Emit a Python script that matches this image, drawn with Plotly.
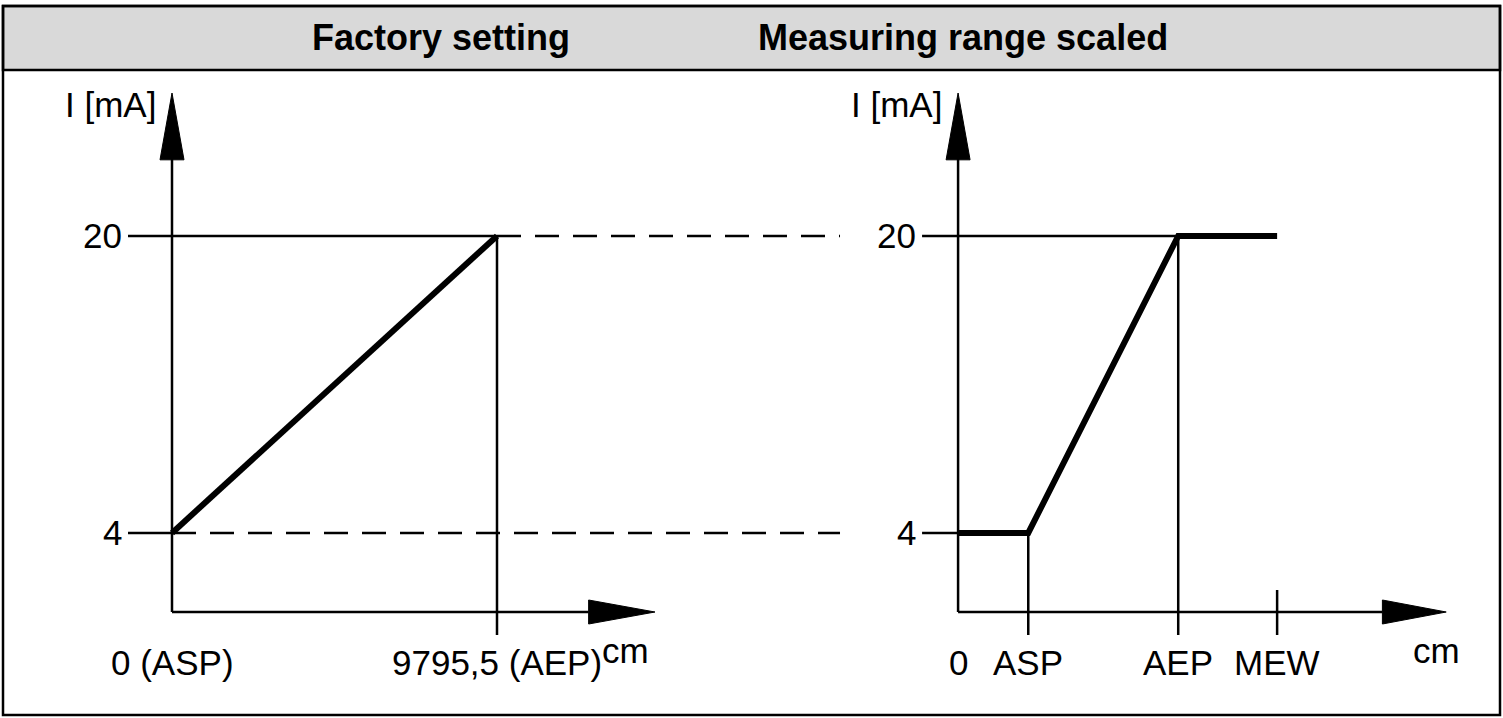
import plotly.graph_objects as go

W, H = 1503, 718

# data
current_levels = [4, 20]
left_x = [0, 9795.5]            # cm: ASP .. AEP
left_y = [4, 20]
right_pts = {"0": 0, "ASP": 2.2, "AEP": 6.9, "MEW": 10}
right_curve_x = [0, 2.2, 6.9, 10]
right_curve_y = [4, 4, 20, 20]
x_base = -0.26                  # mA level where the cm axes sit
y_top = 27.7
left_xmax = 14557
right_xmax = 15.3

# axis ranges picked so both panels share one y scale
LX = [-5184, 40116]
RX = [-30.03, 17.08]
YR = [-5.97, 32.71]

BLK = "black"
fig = go.Figure()


def line(x, y, ax, w=2.5, dash=None):
    fig.add_trace(go.Scatter(x=x, y=y, mode="lines", xaxis=ax, yaxis="y",
                             line=dict(color=BLK, width=w, dash=dash), hoverinfo="skip"))


def tri(x, y, ax):
    fig.add_trace(go.Scatter(x=x, y=y, mode="lines", fill="toself", fillcolor=BLK, xaxis=ax,
                             yaxis="y", line=dict(color=BLK, width=1), hoverinfo="skip"))


# left panel
lx_px = 9795.5 / 325
ly_px = 16 / 297
line([0, 0], [x_base, y_top - 3], "x")
tri([-12 * lx_px, 12 * lx_px, 0, -12 * lx_px], [y_top - 3.6, y_top - 3.6, y_top, y_top - 3.6], "x")
line([0, left_xmax - 2000], [x_base, x_base], "x")
tri([left_xmax - 2000, left_xmax - 2000, left_xmax, left_xmax - 2000],
    [x_base - 12 * ly_px, x_base + 12 * ly_px, x_base, x_base - 12 * ly_px], "x")
for v in current_levels:
    line([-44 * lx_px, 0], [v, v], "x")
line([0, left_x[1]], [20, 20], "x")
line([left_x[1], left_x[1]], [20, x_base - 23 * ly_px], "x")
line([left_x[1], 343 * lx_px + left_x[1]], [20, 20], "x", dash="24px,14px")
line([0, 668 * lx_px], [4, 4], "x", dash="24px,14px")
line(left_x, left_y, "x", w=6)

# right panel
rx_px = 10 / 319
line([0, 0], [x_base, y_top - 3], "x2")
tri([-12 * rx_px, 12 * rx_px, 0, -12 * rx_px], [y_top - 3.6, y_top - 3.6, y_top, y_top - 3.6], "x2")
line([0, right_xmax - 2], [x_base, x_base], "x2")
tri([right_xmax - 2, right_xmax - 2, right_xmax, right_xmax - 2],
    [x_base - 12 * ly_px, x_base + 12 * ly_px, x_base, x_base - 12 * ly_px], "x2")
for v in current_levels:
    line([-36 * rx_px, 0], [v, v], "x2")
line([0, right_pts["AEP"]], [20, 20], "x2")
line([right_pts["ASP"]] * 2, [4, x_base - 23 * ly_px], "x2")
line([right_pts["AEP"]] * 2, [20, x_base - 23 * ly_px], "x2")
line([right_pts["MEW"]] * 2, [x_base + 22 * ly_px, x_base - 23 * ly_px], "x2")
line(right_curve_x, right_curve_y, "x2", w=6)

ann = []
F = dict(family="Liberation Sans, Arial", size=35, color=BLK)
for v in current_levels:
    ann.append(dict(x=-48 * lx_px, y=v, xref="x", yref="y", text=str(v), xanchor="right", showarrow=False, font=F))
    ann.append(dict(x=-40 * rx_px, y=v, xref="x2", yref="y", text=str(v), xanchor="right", showarrow=False, font=F))
ann.append(dict(x=-14 * lx_px, y=y_top - 0.6, xref="x", yref="y", text="I [mA]", xanchor="right", showarrow=False, font=F))
ann.append(dict(x=-14 * rx_px, y=y_top - 0.6, xref="x2", yref="y", text="I [mA]", xanchor="right", showarrow=False, font=F))
ann.append(dict(x=0, y=x_base - 50 * ly_px, xref="x", yref="y", text="0 (ASP)", showarrow=False, font=F))
ann.append(dict(x=left_x[1], y=x_base - 50 * ly_px, xref="x", yref="y", text="9795,5 (AEP)", showarrow=False, font=F))
ann.append(dict(x=left_xmax - 900, y=x_base - 38 * ly_px, xref="x", yref="y", text="cm", showarrow=False, font=F))
for k, v in right_pts.items():
    ann.append(dict(x=v, y=x_base - 50 * ly_px, xref="x2", yref="y", text=k, showarrow=False, font=F))
ann.append(dict(x=right_xmax - 0.3, y=x_base - 38 * ly_px, xref="x2", yref="y", text="cm", showarrow=False, font=F))
HF = dict(family="Liberation Sans, Arial", size=36, color=BLK)
ann.append(dict(x=310 / W, y=1 - 38 / H, xref="paper", yref="paper", yanchor="middle",
                text="<b>Factory setting</b>", showarrow=False, font=HF))
ann.append(dict(x=1170 / W, y=1 - 38 / H, xref="paper", yref="paper", yanchor="middle",
                text="<b>Measuring range scaled</b>", showarrow=False, font=HF))

shapes = [
    dict(type="rect", xref="paper", yref="paper", x0=3 / W, x1=1 - 3 / W, y0=1 - 6 / H, y1=1 - 70 / H,
         fillcolor="#d9d9d9", line=dict(color=BLK, width=2.5), layer="below"),
    dict(type="rect", xref="paper", yref="paper", x0=3 / W, x1=1 - 3 / W, y0=3 / H, y1=1 - 6 / H,
         line=dict(color=BLK, width=2.5)),
]

hid = dict(visible=False, fixedrange=True)
fig.update_layout(
    width=W, height=H, margin=dict(l=0, r=0, t=0, b=0), showlegend=False,
    plot_bgcolor="white", paper_bgcolor="white",
    xaxis=dict(range=LX, domain=[0, 1], **hid),
    xaxis2=dict(range=RX, domain=[0, 1], overlaying="x", **hid),
    yaxis=dict(range=YR, domain=[0, 1], **hid),
    annotations=ann, shapes=shapes,
)
fig.write_html("out.html", config={"displayModeBar": False},
               post_script="document.body.style.margin='0';document.body.style.overflow='hidden';")
